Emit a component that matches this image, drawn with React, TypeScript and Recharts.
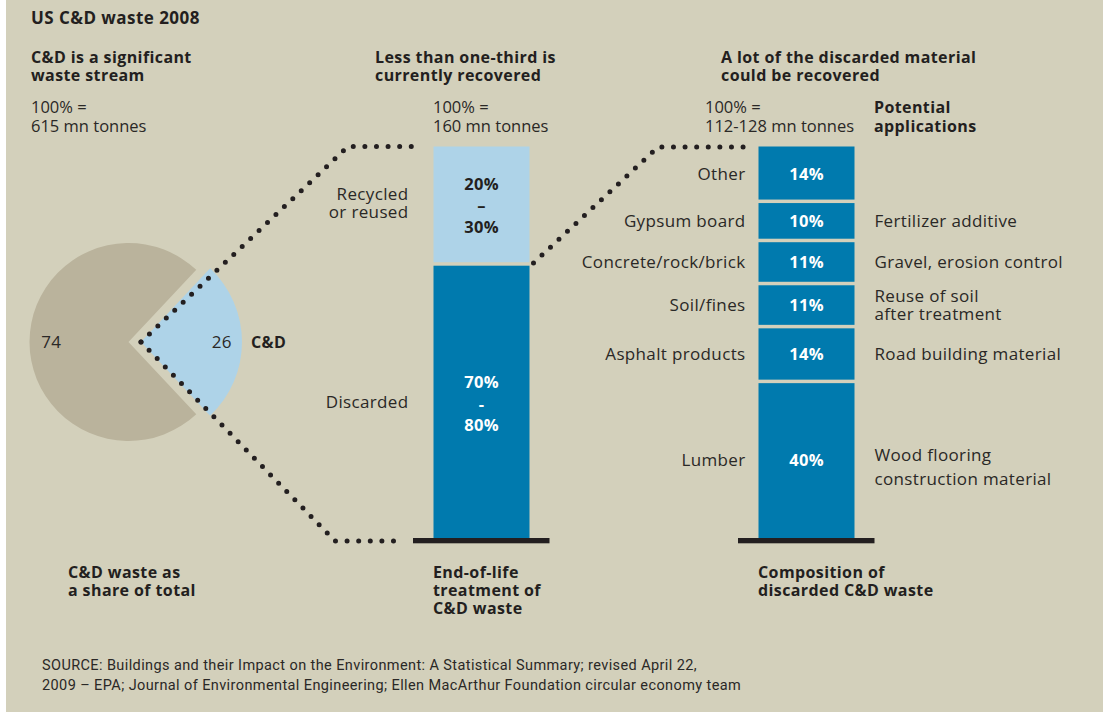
import React from 'react';
import { BarChart, Bar, XAxis, YAxis, LabelList, PieChart, Pie, Cell } from 'recharts';

// ---------- data ----------
const pieCategories = ['C&D', 'Other waste'];
const pieShares = [26, 74];

const treatmentCategoryLines = [['Discarded'], ['Recycled', 'or reused']];
const treatmentShares = [70, 30];
const treatmentRanges = [['70%', '-', '80%'], ['20%', '–', '30%']];

const compositionCategories = ['Lumber', 'Asphalt products', 'Soil/fines', 'Concrete/rock/brick', 'Gypsum board', 'Other'];
const compositionShares = [40, 14, 11, 11, 10, 14];
const compositionApplications = [
  ['Wood flooring', 'construction material'],
  ['Road building material'],
  ['Reuse of soil', 'after treatment'],
  ['Gravel, erosion control'],
  ['Fertilizer additive'],
  [],
];

const titleText = 'US C&D waste 2008';
const sectionHeadings = [
  ['C&D is a significant', 'waste stream'],
  ['Less than one-third is', 'currently recovered'],
  ['A lot of the discarded material', 'could be recovered'],
];
const totals = [
  ['100% =', '615 mn tonnes'],
  ['100% =', '160 mn tonnes'],
  ['100% =', '112-128 mn tonnes'],
];
const applicationsHeading = ['Potential', 'applications'];
const stageLabels = [
  ['C&D waste as', 'a share of total'],
  ['End-of-life', 'treatment of', 'C&D waste'],
  ['Composition of', 'discarded C&D waste'],
];
const sourceLines = [
  'SOURCE: Buildings and their Impact on the Environment: A Statistical Summary; revised April 22,',
  '2009 – EPA; Journal of Environmental Engineering; Ellen MacArthur Foundation circular economy team',
];

// ---------- style / layout ----------
const W = 1103;
const H = 717;
const BG = '#d3d0bb';
const PIE_GRAY = '#bab39c';
const LIGHT_BLUE = '#aed3e8';
const DARK_BLUE = '#007aae';
const INK = '#231f20';
const TEXT = '#2a2826';
const FONT = "'Open Sans', sans-serif";
const REG_SIZE = 17;
const REG_LS = 0.35;
const BOLD_LS = 0.4;

const PLOT_TOP = 146.5;
const PLOT_BOTTOM = 538;
const BAR1_CX = 481;
const BAR2_CX = 806;
const BAR_W = 96;
const BAND = BAR2_CX - BAR1_CX;
const GAP = 3.5;

const PIE_CX = 128.5;
const PIE_CY = 342;
const PIE_R = 99;
const SLICE_CX = 141;
const SLICE_R = 101;
const HALF_SLICE = (pieShares[0] / 100) * 180;

const pieData = pieCategories.map((name, i) => ({ name, value: pieShares[i] }));

const chartData = [
  Object.assign({ stage: 'treatment' }, ...treatmentShares.map((v, i) => ({ [`t${i}`]: v }))),
  Object.assign({ stage: 'composition' }, ...compositionShares.map((v, i) => ({ [`c${i}`]: v }))),
];

const yOf = (v: number) => PLOT_BOTTOM - (v / 100) * (PLOT_BOTTOM - PLOT_TOP);

function segShape(fill: string, isBottom: boolean, isTop: boolean) {
  return (p: any) => {
    const { x, y, width, height } = p;
    if (!height || height <= 0 || isNaN(y) || isNaN(x)) return <g />;
    const top = y + (isTop ? 0 : GAP / 2);
    const bot = y + height - (isBottom ? 0 : GAP / 2);
    return (
      <g>
        <rect x={x} y={top} width={width} height={bot - top} fill={fill} />
        {isBottom && <rect x={x - 20.5} y={y + height} width={width + 40.5} height={5.3} fill={INK} />}
      </g>
    );
  };
}

const box = (p: any) => {
  const vb = p.viewBox && p.viewBox.width != null ? p.viewBox : p;
  return { x: Number(vb.x), y: Number(vb.y), width: Number(vb.width), height: Number(vb.height) };
};

function treatmentLabel(i: number) {
  return (p: any) => {
    if (p.index !== 0 || p.value == null) return null;
    const { x, y, width, height } = box(p);
    if (!(height > 0)) return null;
    const cy = y + height / 2;
    const names = treatmentCategoryLines[i];
    const range = treatmentRanges[i];
    const inkCol = i === 0 ? '#ffffff' : INK;
    const nameShift = names.length > 1 ? -2 : 1;
    return (
      <g fontFamily={FONT}>
        {names.map((t, k) => (
          <text key={'n' + k} x={x - 25} y={cy + (k - (names.length - 1) / 2) * 18 + nameShift} dy="0.36em" textAnchor="end"
            fontSize={REG_SIZE} letterSpacing={REG_LS} fill={TEXT}>
            {t}
          </text>
        ))}
        {range.map((t, k) => (
          <text key={'r' + k} x={x + width / 2} y={cy + (k - 1) * 21.5 + (i === 0 ? 3 : 0)} dy="0.36em" textAnchor="middle"
            fontSize={16.5} fontWeight={700} letterSpacing={0.3} fill={inkCol}>
            {t}
          </text>
        ))}
      </g>
    );
  };
}

function compositionLabel(i: number) {
  return (p: any) => {
    if (p.index !== 1 || p.value == null) return null;
    const { x, y, width, height } = box(p);
    if (!(height > 0)) return null;
    const cy = y + height / 2;
    const apps = compositionApplications[i];
    const spacing = apps.length > 1 && i === 0 ? 24 : 18;
    const shift = i === 0 ? 7 : 0;
    return (
      <g fontFamily={FONT}>
        <text x={x - 13} y={cy} dy="0.36em" textAnchor="end" fontSize={REG_SIZE} letterSpacing={REG_LS} fill={TEXT}>
          {compositionCategories[i]}
        </text>
        <text x={x + width / 2} y={cy} dy="0.36em" textAnchor="middle" fontSize={16.5} fontWeight={700} letterSpacing={0.3} fill="#ffffff">
          {`${p.value}%`}
        </text>
        {apps.map((t, k) => (
          <text key={k} x={x + width + 20} y={cy + shift + (k - (apps.length - 1) / 2) * spacing} dy="0.36em" textAnchor="start"
            fontSize={REG_SIZE} letterSpacing={REG_LS} fill={TEXT}>
            {t}
          </text>
        ))}
      </g>
    );
  };
}

const RAD = Math.PI / 180;

const otherPieLabel = (p: any) => {
  if (p.index !== 1) return null;
  const a = p.midAngle * RAD;
  return (
    <text x={PIE_CX + 0.78 * PIE_R * Math.cos(-a)} y={PIE_CY + 0.78 * PIE_R * Math.sin(-a)} dy="0.36em" textAnchor="middle"
      fontFamily={FONT} fontSize={REG_SIZE} letterSpacing={REG_LS} fill={TEXT}>
      {p.value}
    </text>
  );
};

const cdPieLabel = (p: any) => {
  if (p.index !== 0) return null;
  const a = p.midAngle * RAD;
  return (
    <g fontFamily={FONT}>
      <text x={SLICE_CX + 0.8 * SLICE_R * Math.cos(-a)} y={PIE_CY + 0.8 * SLICE_R * Math.sin(-a)} dy="0.36em" textAnchor="middle"
        fontSize={REG_SIZE} letterSpacing={REG_LS} fill={TEXT}>
        {p.value}
      </text>
      <text x={SLICE_CX + (SLICE_R + 9) * Math.cos(-a)} y={PIE_CY + (SLICE_R + 9) * Math.sin(-a)} dy="0.36em" textAnchor="start"
        fontSize={16} fontWeight={700} letterSpacing={BOLD_LS} fill={INK}>
        {p.name}
      </text>
    </g>
  );
};

const Lines = ({ x, y, lines, bold, size, gap, ls }: any) => (
  <>
    {lines.map((t: string, k: number) => (
      <text key={k} x={x} y={y + k * gap} dy="0.36em" fontFamily={FONT} fontSize={size} fontWeight={bold ? 700 : 400}
        letterSpacing={ls != null ? ls : bold ? BOLD_LS : REG_LS} fill={bold ? INK : TEXT}>
        {t}
      </text>
    ))}
  </>
);

export default function App() {
  const bar1Left = BAR1_CX - BAR_W / 2;
  const bar1Right = BAR1_CX + BAR_W / 2;
  const bar2Left = BAR2_CX - BAR_W / 2;
  const dot = { fill: 'none', stroke: INK, strokeWidth: 5, strokeLinecap: 'round' as const, strokeDasharray: '0 11.6' };
  const split = yOf(treatmentShares[0]);

  return (
    <div style={{ position: 'absolute', left: 0, top: 0, width: W, height: H, background: '#ffffff', overflow: 'hidden' }}>
      <div style={{ position: 'absolute', left: 6, top: 0, width: W - 6, height: 712, background: BG }} />

      <div style={{ position: 'absolute', left: 0, top: 0 }}>
        <PieChart width={W} height={H} margin={{ top: 0, right: 0, bottom: 0, left: 0 }}>
          <Pie data={pieData} dataKey="value" nameKey="name" cx={PIE_CX} cy={PIE_CY} outerRadius={PIE_R} innerRadius={0}
            startAngle={-HALF_SLICE} endAngle={360 - HALF_SLICE} stroke="none" isAnimationActive={false}
            label={otherPieLabel} labelLine={false}>
            <Cell fill="transparent" />
            <Cell fill={PIE_GRAY} />
          </Pie>
          <Pie data={pieData} dataKey="value" nameKey="name" cx={SLICE_CX} cy={PIE_CY} outerRadius={SLICE_R} innerRadius={0}
            startAngle={-HALF_SLICE} endAngle={360 - HALF_SLICE} stroke="none" isAnimationActive={false}
            label={cdPieLabel} labelLine={false}>
            <Cell fill={LIGHT_BLUE} />
            <Cell fill="transparent" />
          </Pie>
        </PieChart>
      </div>

      <div style={{ position: 'absolute', left: 0, top: 0 }}>
        <BarChart width={W} height={H} data={chartData} barSize={BAR_W}
          margin={{ top: PLOT_TOP, bottom: H - PLOT_BOTTOM, left: BAR1_CX - BAND / 2, right: W - (BAR2_CX + BAND / 2) }}>
          <XAxis dataKey="stage" hide />
          <YAxis hide domain={[0, 100]} />
          {treatmentShares.map((_, i) => (
            <Bar key={'t' + i} dataKey={`t${i}`} stackId="s" fill={i === 0 ? DARK_BLUE : LIGHT_BLUE} isAnimationActive={false}
              shape={segShape(i === 0 ? DARK_BLUE : LIGHT_BLUE, i === 0, i === treatmentShares.length - 1)}>
              <LabelList dataKey={`t${i}`} content={treatmentLabel(i)} />
            </Bar>
          ))}
          {compositionShares.map((_, i) => (
            <Bar key={'c' + i} dataKey={`c${i}`} stackId="s" fill={DARK_BLUE} isAnimationActive={false}
              shape={segShape(DARK_BLUE, i === 0, i === compositionShares.length - 1)}>
              <LabelList dataKey={`c${i}`} content={compositionLabel(i)} />
            </Bar>
          ))}
        </BarChart>
      </div>

      <svg width={W} height={H} style={{ position: 'absolute', left: 0, top: 0, pointerEvents: 'none' }}>
        <path d={`M${SLICE_CX},${PIE_CY} L348,${PLOT_TOP} L${bar1Left - 16},${PLOT_TOP}`} {...dot} />
        <path d={`M${SLICE_CX},${PIE_CY} L335,541 L${bar1Left - 30},541`} {...dot} />
        <path d={`M${bar1Right + 4.5},${split - 1} L658,${PLOT_TOP + 0.5} L${bar2Left - 13},${PLOT_TOP + 0.5}`} {...dot} />

        <Lines x={31} y={18} lines={[titleText]} bold size={17} gap={18} ls={0.45} />
        <Lines x={31} y={57} lines={sectionHeadings[0]} bold size={16} gap={18} />
        <Lines x={375} y={57} lines={sectionHeadings[1]} bold size={16} gap={18} />
        <Lines x={721} y={57} lines={sectionHeadings[2]} bold size={16} gap={18} />
        <Lines x={31} y={107} lines={totals[0]} size={16.5} gap={19} ls={0} />
        <Lines x={433} y={107} lines={totals[1]} size={16.5} gap={19} ls={0} />
        <Lines x={705} y={107} lines={totals[2]} size={16.5} gap={19} ls={0} />
        <Lines x={874} y={107} lines={applicationsHeading} bold size={16} gap={19} />
        <Lines x={68} y={572} lines={stageLabels[0]} bold size={16} gap={18} />
        <Lines x={433} y={572} lines={stageLabels[1]} bold size={16} gap={18} />
        <Lines x={758} y={572} lines={stageLabels[2]} bold size={16} gap={18} />
        {sourceLines.map((t, k) => (
          <text key={k} x={42} y={665 + k * 20} dy="0.36em" fontFamily="Roboto, sans-serif" fontSize={14.5} letterSpacing={0.4} fill={TEXT}>{t}</text>
        ))}
      </svg>
    </div>
  );
}
